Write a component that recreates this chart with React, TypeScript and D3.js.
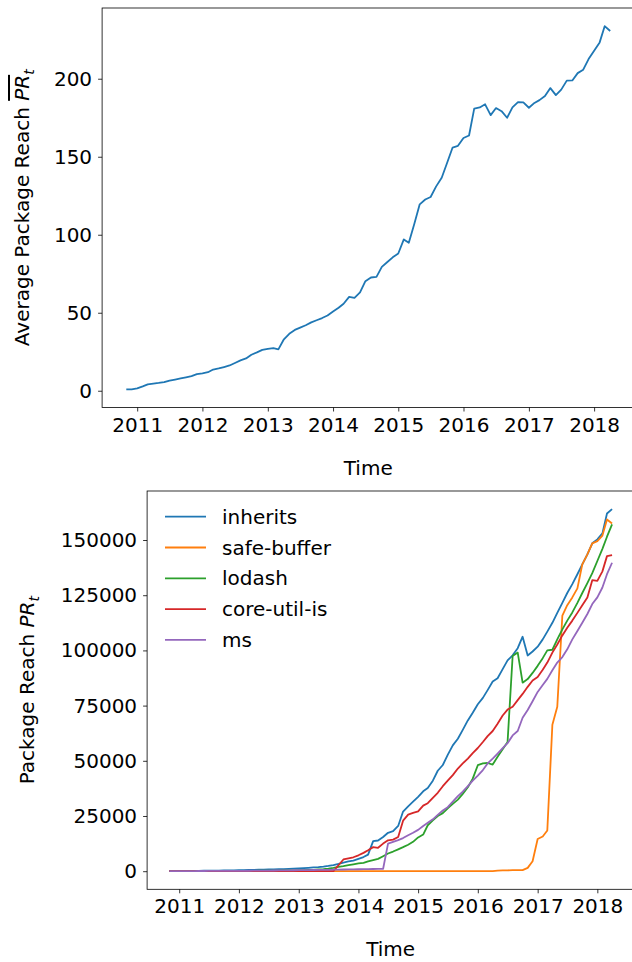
import React, { useRef, useEffect } from 'react';
import * as d3 from 'd3';

// first month of both series, one value per month after that
const startMonth = new Date(2010, 10, 1);
const yearTicks = [2011, 2012, 2013, 2014, 2015, 2016, 2017, 2018];

// top panel: average package reach
const avgReach = [
  0.9, 0.9, 1.5, 2.8, 4.1, 4.6, 5.0, 5.5, 6.5, 7.2,
  7.9, 8.6, 9.4, 10.6, 11.2, 11.9, 13.6, 14.3, 15.2, 16.2,
  17.8, 19.5, 20.7, 23.1, 24.6, 26.2, 26.9, 27.3, 26.5, 33.0,
  36.5, 39.0, 40.5, 42.0, 43.8, 45.2, 46.6, 48.2, 50.8, 53.2,
  55.8, 60.2, 59.5, 63.0, 70.2, 72.6, 73.0, 79.4, 82.5, 85.5,
  88.0, 97.0, 94.8, 107.0, 119.5, 122.6, 124.2, 131.0, 136.5, 146.0,
  155.9, 157.0, 162.0, 163.6, 180.8, 181.6, 183.6, 176.7, 181.2, 179.2,
  175.0, 181.6, 185.0, 184.8, 181.4, 184.5, 186.3, 188.9, 194.0, 189.5,
  193.0, 198.8, 198.9, 203.6, 205.8, 212.6, 218.0, 223.3, 233.7, 230.6,
];

// bottom panel: package reach of single packages
const inherits = [
  50, 60, 80, 100, 120, 150, 180, 200, 230, 260,
  300, 330, 370, 410, 450, 500, 550, 600, 650, 700,
  760, 820, 880, 950, 1050, 1150, 1250, 1400, 1550, 1700,
  1850, 2100, 2400, 2800, 3300, 3900, 4400, 4800, 5600, 6400,
  7500, 13600, 13900, 15500, 17400, 18100, 20500, 27000, 29400, 31500,
  33700, 36200, 37700, 41000, 45500, 48100, 52700, 57000, 60000, 64000,
  68300, 71800, 75600, 78500, 82000, 85900, 87400, 91500, 95500, 97800,
  101000, 106200, 97700, 99500, 101700, 105000, 108500, 112500, 117000, 121500,
  126000, 130000, 134500, 139000, 143500, 148500, 150300, 153000, 162000, 164000,
];
const safeBuffer = [
  0, 0, 0, 0, 0, 0, 0, 0, 0, 0,
  0, 0, 0, 0, 0, 0, 0, 0, 0, 0,
  0, 0, 0, 0, 0, 0, 0, 0, 0, 0,
  0, 0, 0, 0, 0, 0, 0, 0, 0, 0,
  0, 0, 0, 0, 0, 0, 0, 0, 0, 0,
  0, 0, 0, 0, 0, 0, 0, 0, 0, 0,
  0, 0, 0, 0, 0, 0, 300, 350, 400, 450,
  500, 500, 1500, 4500, 14600, 15700, 18400, 66300, 74500, 115800,
  120500, 124000, 128100, 139000, 143500, 148500, 149500, 152000, 159300, 157500,
];
const lodash = [
  10, 15, 20, 25, 30, 40, 50, 60, 70, 80,
  90, 100, 110, 120, 135, 150, 165, 180, 200, 220,
  240, 260, 290, 320, 360, 400, 450, 500, 560, 620,
  800, 950, 1150, 1500, 2000, 2300, 2700, 3100, 3500, 3800,
  4400, 5000, 5600, 6800, 8000, 8900, 9900, 10900, 12000, 13300,
  15300, 16600, 20800, 23000, 25000, 26300, 28500, 30500, 32400, 35000,
  38000, 41900, 48000, 48800, 49000, 48300, 51800, 55200, 58500, 97500,
  99000, 85400, 87000, 89800, 93000, 96500, 100000, 100300, 105000, 109500,
  113500, 117200, 121500, 126000, 130500, 135000, 140500, 146000, 151500, 157100,
];
const coreUtilIs = [
  0, 0, 0, 0, 0, 0, 0, 0, 0, 0,
  0, 0, 0, 0, 0, 0, 0, 0, 0, 0,
  0, 0, 0, 0, 0, 0, 0, 0, 0, 0,
  0, 0, 0, 0, 2700, 5300, 5800, 6300, 7200, 8300,
  9500, 10900, 10600, 12500, 14000, 14300, 15500, 22900, 25600, 26400,
  27100, 29700, 30800, 33200, 35500, 38500, 41000, 43500, 46500, 48800,
  51000, 53500, 55800, 58500, 61200, 63500, 66800, 70500, 73200, 74500,
  77500, 80300, 83500, 86400, 88000, 91200, 94500, 99000, 102700, 106800,
  110300, 113500, 117000, 120500, 124000, 131800, 131500, 135800, 142700, 143200,
];
const ms = [
  20, 30, 40, 50, 60, 70, 80, 90, 100, 110,
  120, 130, 140, 150, 170, 190, 210, 230, 250, 270,
  290, 310, 330, 360, 390, 420, 450, 480, 510, 540,
  570, 600, 640, 680, 720, 760, 800, 840, 880, 920,
  960, 1000, 1050, 1100, 12500, 13300, 14100, 15000, 16300, 17400,
  18700, 20500, 21900, 23500, 25500, 27500, 29000, 31500, 34000, 36000,
  38500, 41000, 43300, 45800, 48800, 51000, 53300, 55700, 58000, 61500,
  63500, 69500, 73000, 77000, 81200, 84300, 87100, 91000, 94500, 97000,
  100500, 105000, 108800, 112500, 116500, 121000, 124000, 128500, 134500, 139700,
];

const seriesNames = ['inherits', 'safe-buffer', 'lodash', 'core-util-is', 'ms'];
const seriesValues = [inherits, safeBuffer, lodash, coreUtilIs, ms];
const colors = ['#1f77b4', '#ff7f0e', '#2ca02c', '#d62728', '#9467bd'];

const FONT = "'DejaVu Sans', sans-serif";

// matplotlib-like 5% margins
const padded = (lo: number, hi: number) => {
  const p = (hi - lo) * 0.05;
  return [lo - p, hi + p];
};

const App = () => {
  const svgRef = useRef(null);

  useEffect(() => {
    const svg = d3.select(svgRef.current);
    svg.selectAll('*').remove();

    const months = d3.range(avgReach.length).map(i => d3.timeMonth.offset(startMonth, i));
    const tx = months.map(d => +d);
    const xDomain = padded(d3.min(tx), d3.max(tx)).map(v => new Date(v));
    const years = yearTicks.map(y => new Date(y, 0, 1));

    const styleAxis = (g) => {
      g.select('.domain').remove();
      g.selectAll('.tick line').attr('stroke', '#000').attr('stroke-width', 0.8);
      g.selectAll('.tick text')
        .attr('fill', '#000')
        .attr('font-size', 20)
        .attr('font-family', FONT);
    };

    const drawPanel = (box, yDomain, yTicks) => {
      const x = d3.scaleTime().domain(xDomain).range([box.left, box.right]);
      const y = d3.scaleLinear().domain(yDomain).range([box.bottom, box.top]);

      svg.append('g')
        .attr('transform', `translate(0,${box.bottom})`)
        .call(d3.axisBottom(x).tickValues(years).tickFormat(d3.timeFormat('%Y')).tickSize(4).tickPadding(6))
        .call(styleAxis);

      svg.append('g')
        .attr('transform', `translate(${box.left},0)`)
        .call(d3.axisLeft(y).tickValues(yTicks).tickFormat(d3.format('d')).tickSize(4).tickPadding(6))
        .call(styleAxis);

      svg.append('rect')
        .attr('x', box.left)
        .attr('y', box.top)
        .attr('width', box.right - box.left)
        .attr('height', box.bottom - box.top)
        .attr('fill', 'none')
        .attr('stroke', '#000')
        .attr('stroke-width', 0.8);

      svg.append('text')
        .attr('x', (box.left + box.right) / 2)
        .attr('y', box.bottom + 67)
        .attr('text-anchor', 'middle')
        .attr('font-size', 20)
        .attr('font-family', FONT)
        .text('Time');

      return { x, y };
    };

    // top panel
    const top = { left: 102.1, right: 634.4, top: 8, bottom: 407.5 };
    const p1 = drawPanel(top, padded(d3.min(avgReach), d3.max(avgReach)), [0, 50, 100, 150, 200]);
    const line1 = d3.line()
      .x((d, i) => p1.x(months[i]))
      .y(d => p1.y(d));
    svg.append('path')
      .datum(avgReach)
      .attr('fill', 'none')
      .attr('stroke', '#1f77b4')
      .attr('stroke-width', 1.8)
      .attr('stroke-linejoin', 'round')
      .attr('d', line1);

    const lab1 = svg.append('text')
      .attr('transform', `translate(22,${(top.top + top.bottom) / 2}) rotate(-90)`)
      .attr('text-anchor', 'middle')
      .attr('dy', '0.35em')
      .attr('font-size', 20)
      .attr('font-family', FONT);
    lab1.append('tspan').text('Average Package Reach ');
    lab1.append('tspan').attr('font-style', 'italic').style('text-decoration', 'overline').text('PR');
    lab1.append('tspan').attr('font-style', 'italic').attr('font-size', 14).attr('dy', 5).text('t');

    // bottom panel
    const bot = { left: 147.1, right: 634.2, top: 491, bottom: 889.3 };
    const allVals = seriesValues.flat();
    const p2 = drawPanel(bot, padded(d3.min(allVals), d3.max(allVals)), [0, 25000, 50000, 75000, 100000, 125000, 150000]);
    const line2 = d3.line()
      .x((d, i) => p2.x(months[i]))
      .y(d => p2.y(d));
    seriesValues.forEach((vals, k) => {
      svg.append('path')
        .datum(vals)
        .attr('fill', 'none')
        .attr('stroke', colors[k])
        .attr('stroke-width', 1.8)
        .attr('stroke-linejoin', 'round')
        .attr('d', line2);
    });

    const lab2 = svg.append('text')
      .attr('transform', `translate(27,${(bot.top + bot.bottom) / 2}) rotate(-90)`)
      .attr('text-anchor', 'middle')
      .attr('dy', '0.35em')
      .attr('font-size', 20)
      .attr('font-family', FONT);
    lab2.append('tspan').text('Package Reach ');
    lab2.append('tspan').attr('font-style', 'italic').text('PR');
    lab2.append('tspan').attr('font-style', 'italic').attr('font-size', 14).attr('dy', 5).text('t');

    // legend, no frame
    const legend = svg.selectAll('.legend')
      .data(seriesNames)
      .enter().append('g')
      .attr('class', 'legend')
      .attr('transform', (d, i) => `translate(165, ${516.7 + i * 30.8})`);
    legend.append('line')
      .attr('x1', 0)
      .attr('x2', 41)
      .attr('stroke', (d, i) => colors[i])
      .attr('stroke-width', 1.8);
    legend.append('text')
      .attr('x', 57)
      .attr('dy', '0.35em')
      .attr('font-size', 20)
      .attr('font-family', FONT)
      .text(d => d);

    return () => {
      d3.select(svgRef.current).selectAll('*').remove();
    };
  }, []);

  return (
    <svg ref={svgRef} width={632} height={962}
      style={{ position: 'absolute', left: 0, top: 0, background: '#fff' }}></svg>
  );
};

export default App;
